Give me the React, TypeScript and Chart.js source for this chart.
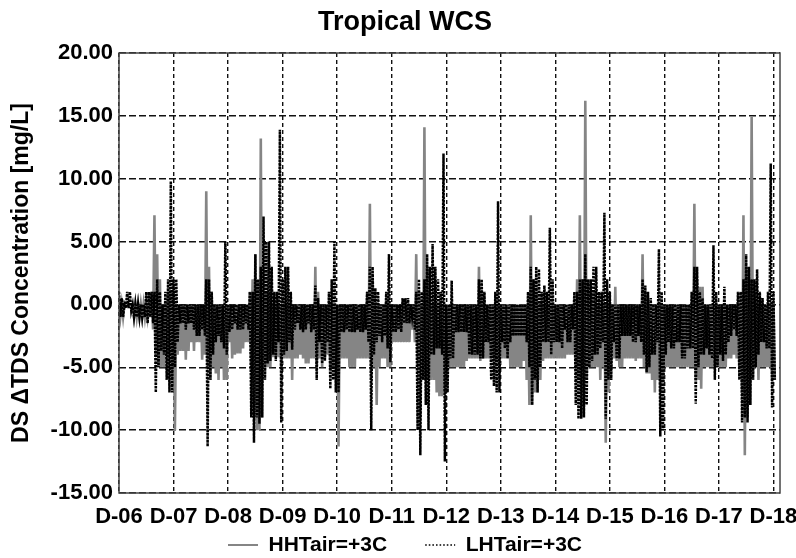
import React, { useEffect, useRef } from "react";
import { Chart, registerables } from "chart.js";

Chart.register(...registerables);

const xLabels = ["D-06", "D-07", "D-08", "D-09", "D-10", "D-11", "D-12", "D-13", "D-14", "D-15", "D-16", "D-17", "D-18"];
const yTickValues = [-15, -10, -5, 0, 5, 10, 15, 20];
const binYears = 1 / 20;

// Per bin (1/20 of a period): upper and lower excursion of each series [mg/L]
const hhHigh = [
  0, 0, 0, 0, 0, 0, 0, 0, 0, 0, 0, 0, 1, 7.1, 4, 2, 0, 0, 1, 1,
  1, 0, 0, 0, 0, 0, 0, 0, 0, 0, 0, 0, 9, 3, 1, 0, 0, 0, 0, 0,
  0, 0, 0, 0, 0, 0, 0, 0, 1, 2, 4, 2, 13.2, 3, 1, 1, 0, 0, 0, 0,
  0, 0, 0, 0, 0, 0, 0, 0, 0, 0, 0, 0, 3, 1, 0, 0, 0, 0, 0, 0,
  0, 0, 0, 0, 0, 0, 0, 0, 0, 0, 0, 1, 8, 2, 0, 0, 0, 0, 0, 0,
  0, 0, 0, 0, 0, 0, 0, 0, 0, 4, 1, 0, 14.1, 3, 1, 0, 0, 0, 0, 0,
  0, 0, 0, 0, 0, 0, 0, 0, 0, 0, 0, 0, 3, 1, 0, 0, 0, 0, 0, 0,
  0, 0, 0, 0, 0, 0, 0, 0, 0, 0, 0, 7.1, 2, 1, 0, 0, 0, 0, 0, 0,
  0, 0, 0, 0, 0, 0, 0, 0, 2, 7.1, 2, 16.2, 2, 1, 1, 0, 0, 0, 0, 0,
  0, 0, 1.4, 0, 0, 0, 0, 0, 0, 0, 0, 0, 4, 1, 0, 0, 0, 0, 0, 0,
  0, 0, 0, 0, 0, 0, 0, 0, 0, 0, 0, 8, 2, 1.4, 1.4, 0, 0, 0, 0, 0,
  0, 0, 0, 0, 0, 0, 0, 0, 1, 7.1, 3, 2, 14.9, 1, 0, 0, 0, 0, 0, 0, 0,
];
const hhLow = [
  -1, -1, 0, 0, 0, -1, -1, -1, -1, -1, -1, -1, -2, -4, -5, -5, -5, -4, -4, -6,
  -10, -4, -3.7, -3.7, -4.4, -3.7, -3, -3.7, -3, -3, -4.4, -4, -5, -6, -5, -5.5, -6, -5, -6, -6,
  -3, -4.3, -4, -3.9, -3.9, -3.5, -3, -3, -5, -8, -10, -10, -9, -6, -5, -5, -4.2, -4.2, -4.2, -5,
  -4.3, -4.3, -4.3, -6, -4.3, -4.3, -4, -4.3, -4.7, -4.7, -4.3, -4.3, -5, -4.3, -5, -4.3, -4, -5, -5, -6,
  -11.3, -4.3, -4.3, -4.3, -5, -5, -5, -4.3, -4.3, -4.3, -4.3, -4.3, -6, -5, -8, -5, -4.3, -4.3, -5, -5,
  -3, -3, -3, -3, -3, -3, -3, -2, -3, -5, -9, -6, -6, -6, -6, -6, -7, -7.3, -7.3, -7,
  -5, -5, -5, -5, -5, -5, -5, -4.5, -4.3, -4.3, -4.3, -4.3, -4.5, -4.3, -4.3, -4.3, -4.3, -4.3, -4.5, -5,
  -4.3, -4.3, -4.3, -5, -5, -5, -5, -5, -4.5, -6, -8, -8, -7, -7, -6, -4.5, -4.3, -4.3, -4.3, -4.3,
  -4.3, -4.3, -4.3, -4.3, -4, -4, -4, -5, -6, -7, -8, -6, -5, -5, -5, -5, -6, -5, -11, -7,
  -5, -4.3, -4.5, -5, -5, -4.3, -4.3, -4.3, -4.3, -4.5, -4.3, -4.3, -5, -5.5, -5.5, -6, -7, -6, -7, -6,
  -5, -5, -5, -5, -5, -5, -5, -5, -5, -5, -5, -6, -6, -6.7, -5, -5, -5, -5, -5, -5,
  -5, -5, -5, -4.3, -4.3, -4, -4.3, -5, -7, -12, -9, -8, -6, -5, -6, -5, -5, -5, -5, -6, -6,
];
const lhHigh = [
  1, 0.5, 0, 1, 1, 0, 0, 0, 0, 0, 1, 1, 1, 1, 2, 1, 0, 1, 2, 9.8,
  2, 2, 0, 0, 0, 0, 0, 0, 0, 0, 0, 0, 2, 2, 1, 0, 0, 0, 0, 5,
  0, 0, 0, 0, 0, 0, 0, 0, 1, 1, 4, 2, 3, 7, 5, 5, 3, 1, 1, 13.9,
  2, 3, 3, 1, 0, 0, 0, 0, 0, 0, 0, 0, 1.5, 0.5, 0, 0, 0, 1, 2, 5,
  0, 0, 0, 0, 0, 0, 0, 0, 0, 0, 0, 1, 3, 3, 1.3, 1, 0, 0, 1, 4,
  0, 0, 0, 0, 0.5, 0.5, 0.5, 0, 0, 1, 2, 1, 2, 4, 3, 4.8, 3, 2, 1, 12,
  0, 0, 1.9, 0, 0, 0, 0, 0, 0, 0, 0, 0, 2, 2, 1, 0, 0, 0, 1, 8.2,
  0, 0, 0, 0, 0, 0, 0, 0, 0, 0, 1, 3, 2, 3, 2.8, 1, 1.5, 1, 6.1, 2,
  0, 0, 0, 0, 0, 0, 0, 1, 1, 2, 2, 4, 2, 2, 3, 3, 1, 1, 7.3, 2,
  1, 0, 0, 0, 0, 0, 0, 0, 0, 0, 0, 0, 2, 1.5, 1, 0.5, 0, 0, 4.4, 1,
  0, 0, 0, 0, 0, 0, 0, 0, 0, 0, 1, 3, 3, 1, 0.5, 0, 0, 0, 4.7, 1,
  0, 0, 1.4, 0, 0, 0, 0, 1, 1, 2, 4, 3, 2, 2, 2.8, 1, 0.5, 0, 1, 11.2, 1,
];
const lhLow = [
  -1, -1, -0.3, -0.3, -0.5, -1, -1, -1, -1, -1, -1.5, -1, -1.5, -7, -5, -3.7, -4, -6, -7, -7,
  -5, -3, -1.5, -1.5, -2, -1.5, -1.5, -2, -2.5, -2.5, -2, -2.5, -11.3, -6, -4, -3, -2.5, -3, -3.5, -4,
  -2.2, -2, -1.5, -2, -2, -2, -1.5, -2, -9, -11, -9, -9.5, -9, -6, -4.7, -4.5, -4, -4.5, -3, -9.4,
  -4, -3.7, -3, -3.6, -2, -1.5, -2, -2.2, -2, -1.5, -2.2, -2, -6, -3, -4.7, -4.5, -3, -6.7, -6, -7,
  -7, -2.2, -2.2, -2, -2.2, -2.2, -2.2, -2, -2.2, -2.2, -2, -3, -10, -4, -3, -2.5, -3, -2.5, -3.5, -4.6,
  -2.2, -2.2, -2, -2.2, -1.5, -1.5, -1.5, -1, -2, -10, -12, -6, -8, -10, -4, -4, -3.5, -3.5, -4, -12.5,
  -7, -4.3, -4.3, -2.2, -2.2, -2.2, -2.2, -2.2, -4, -4, -4, -4, -4.3, -4.3, -3, -3, -6, -6.5, -7, -7,
  -3, -3.5, -4.3, -3, -2.5, -2.5, -2.5, -2.5, -2.5, -3, -5, -8, -6, -7, -5, -3, -3, -3, -4, -3,
  -3, -3, -3.5, -2, -3, -3, -2, -8, -9.1, -9.1, -9, -8, -5, -4.5, -4, -4, -3.5, -3, -9.1, -6,
  -6, -3, -4.3, -4.3, -2.5, -2.5, -2.5, -2.5, -3, -3, -2.5, -3, -4, -5.4, -5, -4, -4, -3, -10.5, -10,
  -4, -3, -3.5, -3.5, -3, -3, -4.3, -4.3, -3.5, -3.5, -3.5, -7.9, -5, -4, -4, -3.5, -4, -4.3, -6, -5,
  -4, -4.5, -4, -3, -2.5, -2, -2.5, -6, -9.4, -9, -9.4, -8, -6, -5, -4, -3, -3, -3.5, -3.5, -8.2, -6,
];

function zigzag(hi: number[], lo: number[]) {
  const pts: { x: number; y: number }[] = [];
  hi.forEach((h, i) => {
    pts.push({ x: i * binYears, y: h });
    pts.push({ x: i * binYears + binYears / 2, y: lo[i] });
  });
  return pts;
}

const FONT = "'Liberation Sans', Arial, Helvetica, sans-serif";

const framePlugin = {
  id: "frame",
  afterDatasetsDraw(chart: any) {
    const { ctx, chartArea } = chart;
    const { left, top, right, bottom } = chartArea;
    ctx.save();
    ctx.strokeStyle = "#444";
    ctx.lineWidth = 1.5;
    ctx.setLineDash([]);
    ctx.strokeRect(left, top, right - left, bottom - top);
    ctx.restore();
  },
};

export default function App() {
  const ref = useRef<HTMLCanvasElement | null>(null);
  useEffect(() => {
    if (!ref.current) return;
    const chart = new Chart(ref.current, {
      type: "line",
      data: {
        datasets: [
          {
            label: "HHTair=+3C",
            data: zigzag(hhHigh, hhLow),
            borderColor: "#858585",
            backgroundColor: "#858585",
            borderWidth: 2.6,
            pointRadius: 0,
            tension: 0,
            order: 2,
            xAxisID: "x",
            yAxisID: "y",
          },
          {
            label: "LHTair=+3C",
            data: zigzag(lhHigh, lhLow),
            borderColor: "#000000",
            backgroundColor: "#000000",
            borderWidth: 2.5,
            borderDash: [2.5, 1],
            pointRadius: 0,
            tension: 0,
            order: 1,
            xAxisID: "x",
            yAxisID: "y",
          },
        ],
      },
      options: {
        responsive: false,
        animation: false,
        devicePixelRatio: 1,
        layout: { padding: { left: 14, right: 0, top: 0, bottom: -7.5 } },
        plugins: {
          title: {
            display: true,
            text: "Tropical WCS",
            color: "#000",
            font: { family: FONT, size: 27, weight: "bold" },
            padding: { top: 6, bottom: 14.6 },
          },
          legend: {
            position: "bottom",
            labels: {
              usePointStyle: true,
              pointStyle: "line",
              pointStyleWidth: 30,
              color: "#000",
              font: { family: FONT, size: 21, weight: "bold" },
              padding: 38,
              sort: (a: any, b: any) => a.datasetIndex - b.datasetIndex,
              generateLabels: (chart: any) => {
                const items = Chart.defaults.plugins.legend.labels.generateLabels(chart);
                return items.map((it: any) => ({
                  ...it,
                  lineWidth: it.datasetIndex === 0 ? 2.2 : 1.6,
                  lineDash: it.datasetIndex === 0 ? [] : [1.6, 2],
                }));
              },
            },
          },
          tooltip: { enabled: false },
        },
        scales: {
          x: {
            type: "linear",
            min: 0,
            max: 12.12,
            afterBuildTicks: (s: any) => {
              s.ticks = xLabels.map((_, i) => ({ value: i }));
            },
            afterFit: (s: any) => {
              s.height = 3.5;
              s.paddingLeft = 0;
              s.paddingRight = 0;
            },
            ticks: {
              autoSkip: false,
              maxRotation: 0,
              minRotation: 0,
              mirror: true,
              padding: -37,
              color: "#000",
              font: { family: FONT, size: 22, weight: "bold" },
              callback: (v: any) => xLabels[Math.round(Number(v))] ?? "",
            },
            grid: { color: "#111", lineWidth: 1.4, drawTicks: false },
            border: { display: false, dash: [4, 3] },
          },
          y: {
            type: "linear",
            position: "left",
            min: -15,
            max: 20,
            afterBuildTicks: (s: any) => {
              s.ticks = yTickValues.map((v) => ({ value: v }));
            },
            afterFit: (s: any) => {
              s.width = 105;
            },
            ticks: {
              padding: 6,
              color: "#000",
              font: { family: FONT, size: 22, weight: "bold" },
              callback: (v: any) => Number(v).toFixed(2),
            },
            grid: { color: "#111", lineWidth: 1.4, drawTicks: false },
            border: { display: false, dash: [7, 3] },
            title: {
              display: true,
              text: "DS \u0394TDS Concentration [mg/L]",
              color: "#000",
              font: { family: FONT, size: 23, weight: "bold" },
              padding: { top: -6, bottom: 0 },
            },
          },
          yR: {
            type: "linear",
            position: "right",
            display: true,
            afterFit: (s: any) => {
              s.width = 16;
            },
            ticks: { display: false },
            grid: { display: false, drawTicks: false },
            border: { display: false },
          },
        },
      },
      plugins: [framePlugin],
    } as any);
    return () => chart.destroy();
  }, []);

  return (
    <div style={{ position: "fixed", left: 0, top: 0, width: 796, height: 558, background: "#fff" }}>
      <canvas ref={ref} width={796} height={558} style={{ width: 796, height: 558, display: "block" }} />
    </div>
  );
}
